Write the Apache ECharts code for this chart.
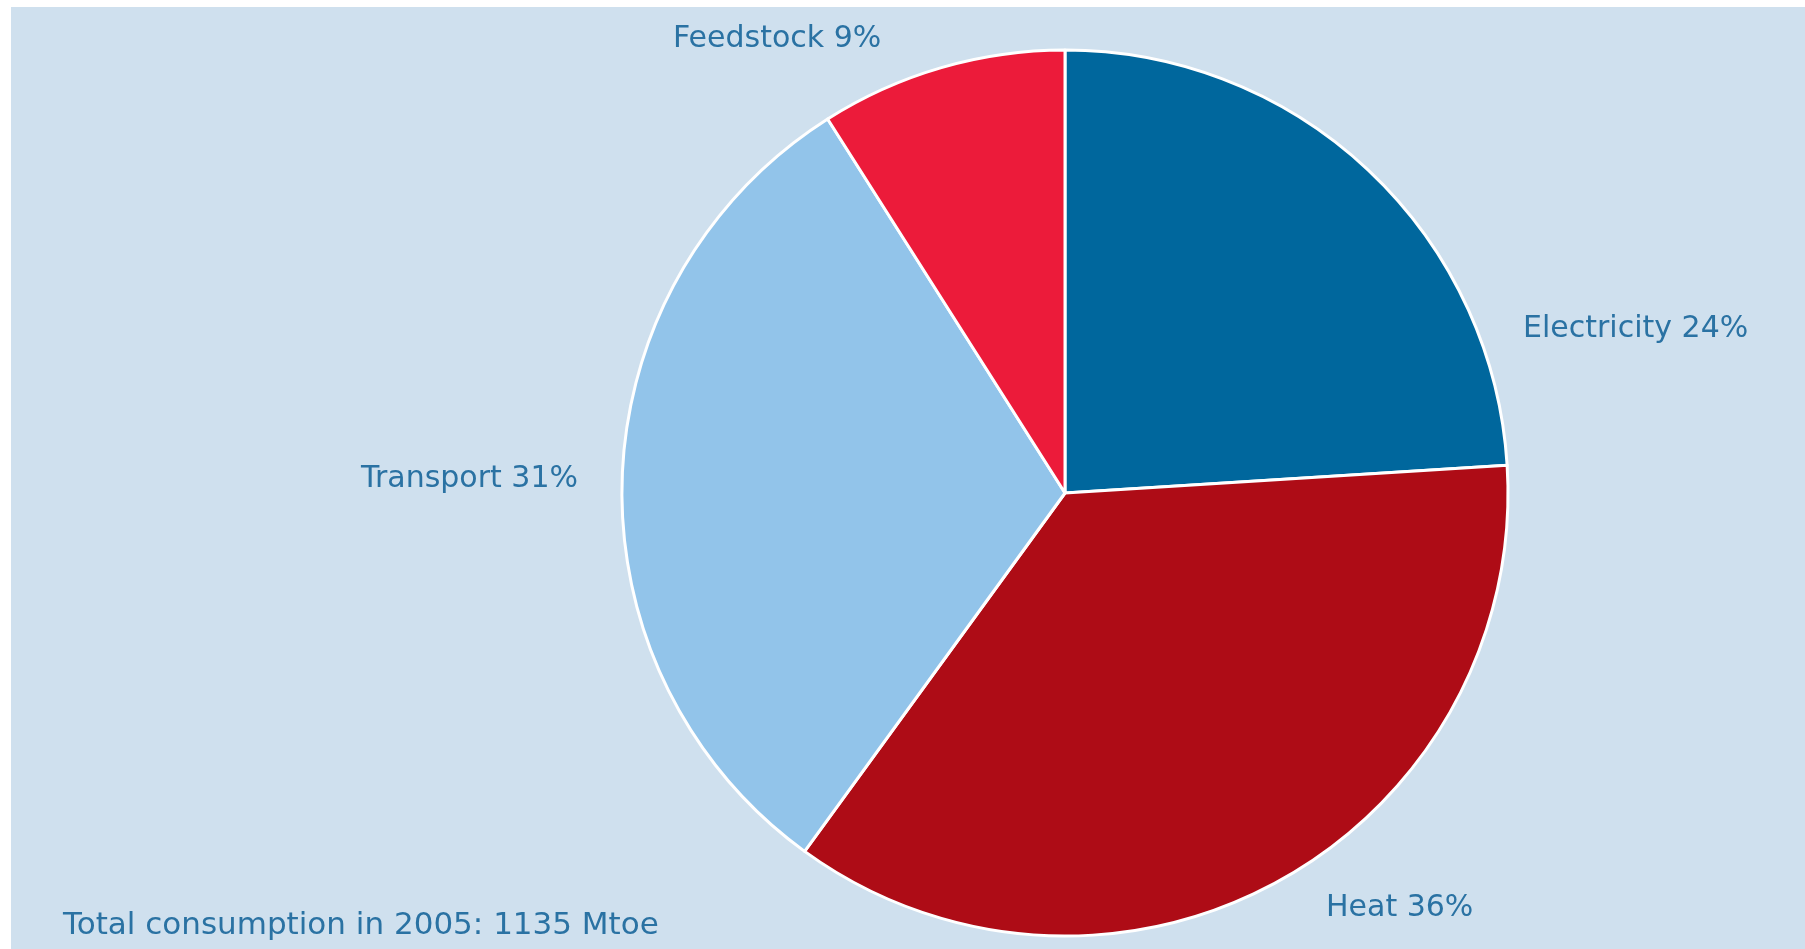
<!DOCTYPE html>
<html><head><meta charset="utf-8">
<script src="https://cdn.jsdelivr.net/npm/echarts@6/dist/echarts.min.js"></script>
<style>html,body{margin:0;padding:0;background:#fff;}#c{width:1805px;height:949px;}</style>
</head><body><div id="c"></div>
<script>
const categories = ['Electricity', 'Heat', 'Transport', 'Feedstock'];
const shares = [24, 36, 31, 9];
const colors = ['#00679d', '#ae0c16', '#92c4ea', '#ec1b3a'];
const footnote = 'Total consumption in 2005: 1135 Mtoe';

const labelPos = [
  {x: 1523, y: 329, align: 'left'},
  {x: 1326, y: 908, align: 'left'},
  {x: 578, y: 479, align: 'right'},
  {x: 673, y: 39, align: 'left'}
];
const font = '"DejaVu Sans", sans-serif';
const textColor = '#2a72a3';

const chart = echarts.init(document.getElementById('c'));
chart.setOption({
  backgroundColor: '#ffffff',
  animation: false,
  graphic: [
    {type: 'rect', z: -10, shape: {x: 11, y: 7, width: 1805, height: 949}, style: {fill: '#cfe0ee'}},
    {type: 'text', left: 63, top: 910, style: {text: footnote, fill: textColor, font: '31px ' + font}}
  ],
  series: [{
    type: 'pie',
    center: [1065, 493],
    radius: 443,
    startAngle: 90,
    clockwise: true,
    data: categories.map((n, i) => ({name: n, value: shares[i], itemStyle: {color: colors[i]}})),
    itemStyle: {borderColor: '#ffffff', borderWidth: 3},
    label: {
      show: true,
      formatter: p => p.name + ' ' + p.value + '%',
      color: textColor,
      fontFamily: font,
      fontSize: 30
    },
    labelLine: {show: false},
    labelLayout: function (params) {
      const p = labelPos[params.dataIndex];
      return {x: p.x, y: p.y, align: p.align, verticalAlign: 'middle'};
    }
  }]
});
</script></body></html>
